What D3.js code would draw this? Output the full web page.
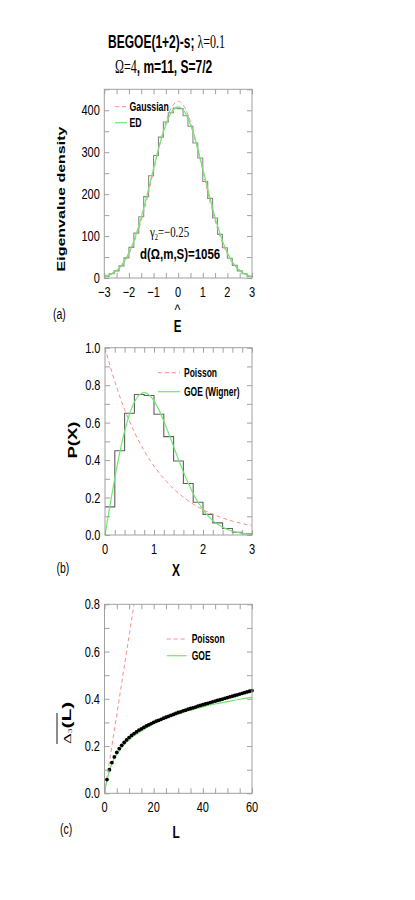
<!DOCTYPE html>
<html><head><meta charset="utf-8">
<script src="https://cdn.jsdelivr.net/npm/d3@7"></script>
<style>body{margin:0;background:#fff}svg{display:block}</style>
</head><body>
<script>
// ---------- Panel (a): eigenvalue density ----------
const eEdges = [-3.0,-2.8,-2.6,-2.4,-2.2,-2.0,-1.8,-1.6,-1.4,-1.2,-1.0,-0.8,-0.6,-0.4,-0.2,0.0,0.2,0.4,0.6,0.8,1.0,1.2,1.4,1.6,1.8,2.0,2.2,2.4,2.6,2.8,3.0];
const eCounts = [4,10,17,29,48,73,107,146,194,244,292,336,372,394,405,404,387,362,322,286,230,190,143,104,72,47,30,17,10,4];
const eCurveX = [-3.0,-2.8,-2.6,-2.4,-2.2,-2.0,-1.8,-1.6,-1.4,-1.2,-1.0,-0.8,-0.6,-0.4,-0.2,0.0,0.2,0.4,0.6,0.8,1.0,1.2,1.4,1.6,1.8,2.0,2.2,2.4,2.6,2.8,3.0];
const gaussVals = [4.7,8.4,14.3,23.6,37.5,57.0,83.4,117.1,158.1,205.1,255.5,305.9,351.9,388.9,412.9,421.3,412.9,388.9,351.9,305.9,255.5,205.1,158.1,117.1,83.4,57.0,37.5,23.6,14.3,8.4,4.7];
const edVals = [3.2,6.9,13.1,23.2,38.5,60.0,88.6,124.2,166.2,212.7,260.8,307.3,348.3,380.5,401.0,408.2,401.0,380.5,348.3,307.3,260.8,212.7,166.2,124.2,88.6,60.0,38.5,23.2,13.1,6.9,3.2];
const aXTicks = [-3,-2,-1,0,1,2,3];
const aYTicks = [0,100,200,300,400];

// ---------- Panel (b): nearest neighbour spacing ----------
const xEdges = [0.0,0.2,0.4,0.6,0.8,1.0,1.2,1.4,1.6,1.8,2.0,2.2,2.4,2.6,2.8,3.0];
const pCounts = [0.15,0.45,0.65,0.75,0.745,0.645,0.525,0.395,0.275,0.175,0.11,0.065,0.035,0.015,0.007];
const wignerX = [0,0.1,0.2,0.3,0.4,0.5,0.6,0.7,0.8,0.9,1.0,1.1,1.2,1.3,1.4,1.5,1.6,1.7,1.8,1.9,2.0,2.2,2.4,2.6,2.8,3.0];
const wignerVals = [0,0.156,0.304,0.439,0.554,0.645,0.710,0.748,0.760,0.748,0.716,0.668,0.608,0.542,0.472,0.403,0.337,0.276,0.222,0.175,0.136,0.077,0.041,0.020,0.009,0.004];
const poisXb = [0,0.2,0.4,0.6,0.8,1.0,1.2,1.4,1.6,1.8,2.0,2.2,2.4,2.6,2.8,3.0];
const poisValsB = [1.0,0.819,0.670,0.549,0.449,0.368,0.301,0.247,0.202,0.165,0.135,0.111,0.091,0.074,0.061,0.050];
const bXTicks = [0,1,2,3];
const bYTicks = [0.0,0.2,0.4,0.6,0.8,1.0];

// ---------- Panel (c): Delta_3 statistic ----------
const Lvals = [1,2,3,4,5,6,7,8,9,10,11,12,13,14,15,16,17,18,19,20,21,22,23,24,25,26,27,28,29,30,31,32,33,34,35,36,37,38,39,40,41,42,43,44,45,46,47,48,49,50,51,52,53,54,55,56,57,58,59,60];
const d3Vals = [0.058,0.100,0.130,0.154,0.173,0.189,0.203,0.215,0.226,0.236,0.245,0.253,0.260,0.267,0.273,0.279,0.285,0.290,0.295,0.300,0.305,0.309,0.313,0.318,0.322,0.326,0.330,0.334,0.338,0.342,0.345,0.349,0.352,0.356,0.359,0.362,0.365,0.369,0.372,0.375,0.378,0.381,0.384,0.387,0.390,0.393,0.396,0.399,0.402,0.405,0.408,0.411,0.414,0.417,0.420,0.423,0.426,0.429,0.432,0.435];
const goeL = [0,0.5,1,2,3,4,5,6,8,10,12,15,20,25,30,35,40,45,50,55,60];
const goeVals = [0,0.03,0.055,0.095,0.125,0.148,0.166,0.181,0.206,0.226,0.243,0.264,0.295,0.316,0.336,0.352,0.366,0.378,0.388,0.398,0.406];
const poisL = [0,12];
const poisValsC = [0,0.8];
const cXTicks = [0,20,40,60];
const cYTicks = [0.0,0.2,0.4,0.6,0.8];

// ---------- drawing ----------
const svg = d3.select("body").append("svg").attr("width",415).attr("height",900);
const SANS = "'Liberation Sans', Arial, Helvetica, sans-serif";
const SERIF = "'Liberation Serif', 'Times New Roman', serif";
const FRAME = "#a0a0a0", RED = "#ff8c8c", GREEN = "#70e870";

function mtext(x, y, parts, o) {
  o = Object.assign({size:13, sx:0.8, anchor:"start", rot:0, family:SANS, weight:"normal"}, o||{});
  const tr = o.rot ? `translate(${x},${y}) rotate(${o.rot}) scale(1,${o.sx})` : `translate(${x},${y}) scale(${o.sx},1)`;
  const t = svg.append("text").attr("transform", tr).attr("text-anchor", o.anchor)
    .attr("font-size", o.size).attr("font-family", o.family).attr("font-weight", o.weight).attr("fill", "#000");
  if (typeof parts === "string") parts = [{t:parts}];
  parts.forEach(p => {
    const s = t.append("tspan").text(p.t);
    if (p.family) s.attr("font-family", p.family);
    if (p.weight) s.attr("font-weight", p.weight);
    if (p.size) s.attr("font-size", p.size);
    if (p.dy) s.attr("dy", p.dy);
  });
  return t;
}

function frameAxes(x, y, xMinor, yMinor, xLab, yLab, xFmt, yFmt) {
  const [x0,x1] = x.range(), [y0,y1] = y.range(); // y0 bottom
  const g = svg.append("g");
  const axes = [
    [d3.axisBottom(x).tickValues(xMinor), `translate(0,${y0})`],
    [d3.axisTop(x).tickValues(xMinor), `translate(0,${y1})`],
    [d3.axisLeft(y).tickValues(yMinor), `translate(${x0},0)`],
    [d3.axisRight(y).tickValues(yMinor), `translate(${x1},0)`]
  ];
  axes.forEach(([ax, tr]) => {
    const a = g.append("g").attr("transform", tr).call(ax.tickSize(-5).tickFormat(""));
    a.select(".domain").remove();
    a.selectAll("line").attr("stroke", FRAME).attr("stroke-width", 1);
  });
  g.append("rect").attr("x", x0).attr("y", y1).attr("width", x1-x0).attr("height", y0-y1)
    .attr("fill","none").attr("stroke", FRAME).attr("stroke-width", 1);
  xLab.forEach(v => mtext(x(v), y0+19, xFmt(v), {anchor:"middle", size:14.5, sx:0.76}));
  yLab.forEach(v => mtext(x0-4.5, y(v)+5, yFmt(v), {anchor:"end", size:14.5, sx:0.76}));
}
const minus = v => (v<0 ? "\u2212" : "") + Math.abs(v);

function stepPath(xs, vals) {
  const pts = vals.map((v,i) => [xs[i], v]);
  pts.push([xs[xs.length-1], vals[vals.length-1]]);
  return pts;
}

// ===== Panel (a) =====
{
  const x = d3.scaleLinear().domain([-3,3]).range([104.3,252]);
  const y = d3.scaleLinear().domain([0,450]).range([278,89.3]);
  const line = d3.line().x(d=>x(d[0])).y(d=>y(d[1]));
  svg.append("path").attr("d", line.curve(d3.curveStepAfter)(stepPath(eEdges, eCounts)))
    .attr("fill","none").attr("stroke","#8a8a8a").attr("stroke-width",1.1);
  const sm = d3.line().x(d=>x(d[0])).y(d=>y(d[1])).curve(d3.curveCatmullRom);
  svg.append("path").attr("d", sm(eCurveX.map((v,i)=>[v,gaussVals[i]])))
    .attr("fill","none").attr("stroke",RED).attr("stroke-width",1).attr("stroke-dasharray","4,3");
  svg.append("path").attr("d", sm(eCurveX.map((v,i)=>[v,edVals[i]])))
    .attr("fill","none").attr("stroke",GREEN).attr("stroke-width",1.2);
  frameAxes(x, y, d3.range(-3,3.01,0.5), d3.range(0,451,50), aXTicks, aYTicks, minus, v=>String(v));
  // legend
  svg.append("line").attr("x1",115).attr("x2",127).attr("y1",106.7).attr("y2",106.7).attr("stroke",RED).attr("stroke-dasharray","4,3");
  mtext(129.5, 111, "Gaussian", {size:12.5, weight:"bold", sx:0.7});
  svg.append("line").attr("x1",115).attr("x2",127).attr("y1",122.7).attr("y2",122.7).attr("stroke",GREEN).attr("stroke-width",1.2);
  mtext(129.5, 127, "ED", {size:12.5, weight:"bold", sx:0.7});
  // annotations
  mtext(150, 237, [{t:"\u03b3", family:SERIF},{t:"2", size:9, dy:3, family:SERIF},{t:"=\u22120.25", family:SERIF, dy:-3}], {size:15, sx:0.72});
  mtext(140, 258.5, [{t:"d("},{t:"\u03a9"},{t:",m,S)=1056"}], {size:15.5, weight:"bold", sx:0.74});
  // axis labels
  mtext(64.5, 199, "Eigenvalue density", {size:16, weight:"bold", rot:-90, sx:0.65, anchor:"middle"});
  mtext(177.5, 315, "^", {size:14, sx:0.9, anchor:"middle"});
  mtext(177.5, 332, "E", {size:16.5, weight:"bold", sx:0.7, anchor:"middle"});
  mtext(53, 319, "(a)", {size:14, sx:0.75});
}

// ===== Panel (b) =====
{
  const x = d3.scaleLinear().domain([0,3]).range([105,252]);
  const y = d3.scaleLinear().domain([0,1]).range([535,347.7]);
  const line = d3.line().x(d=>x(d[0])).y(d=>y(d[1]));
  svg.append("path").attr("d", line.curve(d3.curveStepAfter)(stepPath(xEdges, pCounts)))
    .attr("fill","none").attr("stroke","#606060").attr("stroke-width",1.1);
  const sm = d3.line().x(d=>x(d[0])).y(d=>y(d[1])).curve(d3.curveCatmullRom);
  svg.append("path").attr("d", sm(poisXb.map((v,i)=>[v,poisValsB[i]])))
    .attr("fill","none").attr("stroke",RED).attr("stroke-width",1).attr("stroke-dasharray","4,3");
  svg.append("path").attr("d", sm(wignerX.map((v,i)=>[v,wignerVals[i]])))
    .attr("fill","none").attr("stroke",GREEN).attr("stroke-width",1.2);
  frameAxes(x, y, d3.range(0,3.01,0.2), d3.range(0,1.001,0.1), bXTicks, bYTicks, v=>String(v), v=>v.toFixed(1));
  svg.append("line").attr("x1",158).attr("x2",180).attr("y1",372.7).attr("y2",372.7).attr("stroke",RED).attr("stroke-dasharray","4,3");
  mtext(184, 377, "Poisson", {size:12.5, weight:"bold", sx:0.68});
  svg.append("line").attr("x1",158).attr("x2",180).attr("y1",391.7).attr("y2",391.7).attr("stroke",GREEN).attr("stroke-width",1.2);
  mtext(184, 396, "GOE (Wigner)", {size:12.5, weight:"bold", sx:0.68});
  mtext(77, 440, "P(X)", {size:18.5, weight:"bold", rot:-90, sx:0.65, anchor:"middle"});
  mtext(176, 575.5, "X", {size:17, weight:"bold", sx:0.7, anchor:"middle"});
  mtext(56.5, 573, "(b)", {size:14, sx:0.75});
}

// ===== Panel (c) =====
{
  const x = d3.scaleLinear().domain([0,60]).range([104.5,252]);
  const y = d3.scaleLinear().domain([0,0.8]).range([793.3,604.3]);
  const sm = d3.line().x(d=>x(d[0])).y(d=>y(d[1])).curve(d3.curveMonotoneX);
  svg.append("path").attr("d", sm(poisL.map((v,i)=>[v,poisValsC[i]])))
    .attr("fill","none").attr("stroke",RED).attr("stroke-width",1).attr("stroke-dasharray","4,3");
  svg.append("path").attr("d", sm(goeL.map((v,i)=>[v,goeVals[i]])))
    .attr("fill","none").attr("stroke",GREEN).attr("stroke-width",1.2);
  svg.append("g").selectAll("circle").data(Lvals).join("circle")
    .attr("cx", (d)=>x(d)).attr("cy", (d,i)=>y(d3Vals[i])).attr("r", 1.9).attr("fill","#000");
  frameAxes(x, y, d3.range(0,61,5), d3.range(0,0.801,0.1), cXTicks, cYTicks, v=>String(v), v=>v.toFixed(1));
  svg.append("line").attr("x1",166.7).attr("x2",186.7).attr("y1",639).attr("y2",639).attr("stroke",RED).attr("stroke-dasharray","4,3");
  mtext(191.7, 643.3, "Poisson", {size:12.5, weight:"bold", sx:0.68});
  svg.append("line").attr("x1",166.7).attr("x2",186.7).attr("y1",655.7).attr("y2",655.7).attr("stroke",GREEN).attr("stroke-width",1.2);
  mtext(191.7, 660, "GOE", {size:12.5, weight:"bold", sx:0.68});
  // y label: overline Delta_3 (L)
  mtext(70.5, 744, [{t:"\u0394", family:SERIF},{t:"3", size:9, dy:3, family:SERIF},{t:"(L)", size:21, weight:"bold", dy:-3}], {size:17, rot:-90, sx:0.65});
  svg.append("line").attr("x1",57).attr("x2",57).attr("y1",713).attr("y2",744).attr("stroke","#000").attr("stroke-width",0.9);
  mtext(176, 837.5, "L", {size:17, weight:"bold", sx:0.7, anchor:"middle"});
  mtext(60, 834, "(c)", {size:14, sx:0.75});
}

// ===== Title =====
mtext(108, 47.5, [{t:"BEGOE(1+2)-s;", weight:"bold"},{t:" \u03bb=0.1", family:SERIF, weight:"normal"}], {size:18.5, sx:0.65});
mtext(115, 72.5, [{t:"\u03a9=4", family:SERIF, weight:"normal"},{t:", m=11, S=7/2", weight:"bold"}], {size:18.5, sx:0.65});
</script>
</body></html>
